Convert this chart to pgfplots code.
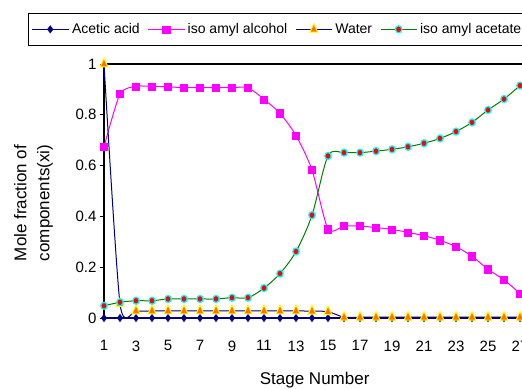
\documentclass[border=0pt]{standalone}
\usepackage{fontspec}
\setmainfont{Liberation Sans}
\usepackage{pgfplots}
\usepackage{pgfplotstable}
\pgfplotsset{compat=1.18}
\definecolor{navyc}{HTML}{000080}
\definecolor{magc}{HTML}{FF00FF}
\definecolor{orac}{HTML}{FF7000}
\definecolor{yelc}{HTML}{FFFF00}
\definecolor{grnc}{HTML}{008000}
\definecolor{redc}{HTML}{FF0000}
\definecolor{cyac}{HTML}{00FFFF}
\pgfplotstableread{
stage acetic alcohol water acetate
1 0 0.674 1.000 0.048
2 0 0.882 0.056 0.062
3 0 0.912 0.028 0.068
4 0 0.912 0.028 0.068
5 0 0.910 0.028 0.075
6 0 0.907 0.028 0.075
7 0 0.907 0.028 0.075
8 0 0.907 0.028 0.075
9 0 0.907 0.028 0.080
10 0 0.907 0.028 0.080
11 0 0.861 0.028 0.118
12 0 0.806 0.028 0.175
13 0 0.719 0.028 0.262
14 0 0.583 0.027 0.405
15 0 0.350 0.025 0.638
16 0 0.362 0.003 0.651
17 0 0.362 0.003 0.651
18 0 0.356 0.003 0.657
19 0 0.349 0.003 0.664
20 0 0.337 0.003 0.674
21 0 0.324 0.003 0.688
22 0 0.306 0.003 0.707
23 0 0.281 0.003 0.734
24 0 0.243 0.003 0.770
25 0 0.192 0.003 0.819
26 0 0.150 0.003 0.862
27 0 0.097 0.003 0.915
}\datatable
\begin{document}
\begin{tikzpicture}
\useasboundingbox (0pt,0pt) rectangle (522pt,389pt);
\clip (0pt,0pt) rectangle (522pt,389pt);
\begin{axis}[
  at={(104pt,71pt)}, anchor=south west,
  scale only axis, width=418pt, height=254pt,
  xmin=1, xmax=27.125, ymin=0, ymax=1,
  axis x line*=bottom, axis y line*=left,
  axis line style={-, black, line width=1.2pt},
  clip=false,
  xtick={1,3,...,27},
  ytick={0,0.2,0.4,0.6,0.8,1},
  yticklabels={0,0.2,0.4,0.6,0.8,1},
  xtick style={draw=none},
  ytick style={black, line width=0.8pt},
  major tick length=4pt, tick align=outside,
  ticklabel style={font=\fontsize{15}{18}\selectfont},
  /pgf/number format/assume math mode=true,
  xticklabel style={yshift=-15pt},
  xlabel={Stage Number},
  xlabel style={at={(axis description cs:0.504,-0.245)}, anchor=center, font=\fontsize{17}{20}\selectfont},
  ylabel={Mole fraction of\\components(xi)},
  ylabel style={at={(axis description cs:-0.1687,0.453)}, anchor=center, align=center, font=\fontsize{17}{23}\selectfont},
  legend columns=4,
  legend style={at={(axis description cs:-0.1818,1.2008)}, anchor=north west,
    draw=black, line width=1pt, inner ysep=3pt, inner xsep=3pt,
    font=\fontsize{14}{16}\selectfont,
    nodes={inner xsep=3pt, inner ysep=7pt},
    /tikz/every even column/.append style={column sep=5pt}},
  legend image code/.code={\draw[mark repeat=2,mark phase=2] plot coordinates {(0pt,0pt) (18pt,0pt) (36pt,0pt)};},
]
\draw[black, line width=1.2pt] (axis cs:1,1) -- (axis cs:27.125,1);
\addplot[navyc, line width=1.5pt, smooth, mark=diamond*, mark size=3.7pt, mark options={fill=navyc, draw=navyc, line width=0.4pt}] table[x=stage, y=acetic] {\datatable};
\addlegendentry{Acetic acid}
\addplot[magc, line width=1pt, smooth, tension=0.4, mark=square*, mark size=3.6pt, mark options={fill=magc, draw=magc, line width=0.4pt}] table[x=stage, y=alcohol] {\datatable};
\addlegendentry{iso amyl alcohol}
\addplot[navyc, line width=1pt, smooth, tension=0.4, mark=triangle*, mark size=4.6pt, mark options={fill=orac, draw=yelc, line width=1pt, yscale=1.25}] table[x=stage, y=water] {\datatable};
\addlegendentry{Water}
\addplot[grnc, line width=1pt, smooth, tension=0.5, mark=*, mark size=3.2pt, mark options={fill=redc, draw=cyac, line width=1.2pt, yscale=1.1}] table[x=stage, y=acetate] {\datatable};
\addlegendentry{iso amyl acetate}
\end{axis}
\end{tikzpicture}
\end{document}
